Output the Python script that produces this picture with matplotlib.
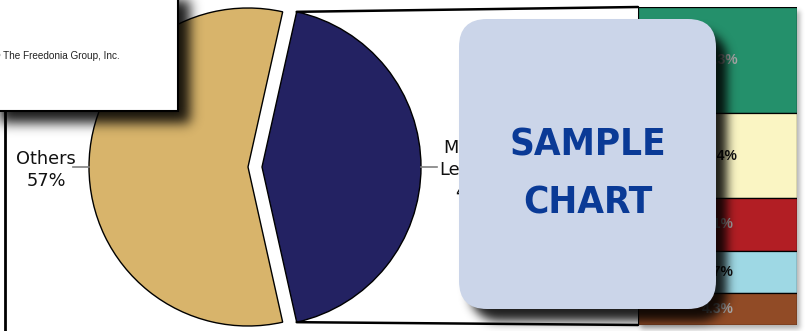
import numpy as np
import matplotlib
matplotlib.use('Agg')
import matplotlib.pyplot as plt
from matplotlib import font_manager as fm
from matplotlib.patches import Rectangle, FancyBboxPatch, ConnectionPatch

# pie: share of the market
pie_labels = ['Market\nLeaders', 'Others']
pie_values = [43, 57]
pie_colors = ['#232262', '#d8b46b']

# bar: how the leaders' 43% splits up (top to bottom)
bar_values = [14.3, 11.4, 7.1, 5.7, 4.3]
bar_colors = ['#24906b', '#faf5c3', '#b21e24', '#9ed8e4', '#914b26']
bar_text_colors = ['#a9a9a9', '#111111', '#a9a9a9', '#111111', '#a9a9a9']

W, H = 806, 331
fig = plt.figure(figsize=(W / 100, H / 100), dpi=100, facecolor='white')

yy, xx = np.mgrid[0:H, 0:W] + 0.5


def blur(m, sigma):
    rad = int(3 * sigma)
    k = np.exp(-0.5 * (np.arange(-rad, rad + 1) / sigma) ** 2)
    k /= k.sum()
    m = np.apply_along_axis(lambda row: np.convolve(row, k, mode='same'), 1, m)
    m = np.apply_along_axis(lambda col: np.convolve(col, k, mode='same'), 0, m)
    return m


def shadow(a_, x0, y0, x1, y1, dx, dy, sigma, strength, rr=0, z=1):
    hx, hy = (x1 - x0) / 2, (y1 - y0) / 2
    cx, cy = (x0 + x1) / 2 + dx, (y0 + y1) / 2 + dy
    qx = np.maximum(np.abs(xx - cx) - (hx - rr), 0)
    qy = np.maximum(np.abs(yy - cy) - (hy - rr), 0)
    mask = (qx ** 2 + qy ** 2 <= rr ** 2 + 1e-9) & (np.abs(xx - cx) <= hx) & (np.abs(yy - cy) <= hy)
    img = np.zeros((H, W, 4))
    img[..., 3] = blur(mask.astype(float), sigma) * strength
    a_.imshow(img, extent=(0, W, H, 0), zorder=z, interpolation='bilinear')


# main axes in pixel units (y goes down)
ax = fig.add_axes([0, 0, 1, 1])
ax.set_zorder(0)

# left frame line of the chart panel
ax.plot([5, 5], [-5, H + 5], color='black', lw=2, solid_capstyle='butt')

# faint shadow under the bar
shadow(ax, 638, 7, 797, 325, 3, 4, 2.5, 0.3, z=0.5)

# pie
r = 159
start = -pie_values[0] / sum(pie_values) * 360 / 2
wedges, _ = ax.pie(pie_values, colors=pie_colors, startangle=start,
                   center=(262, 167), radius=r, explode=[0, 14],
                   wedgeprops=dict(edgecolor='black', linewidth=1))

# leader lines + labels
pct = [f'{v}%' for v in pie_values]
for w, lab, p in zip(wedges, pie_labels, pct):
    mid = np.deg2rad((w.theta1 + w.theta2) / 2)
    cx, cy = w.center
    ex, ey = cx + w.r * np.cos(mid), cy + w.r * np.sin(mid)
    lx, ly = ex + 16 * np.cos(mid), ey + 16 * np.sin(mid)
    ax.plot([ex, lx], [ey, ly], color='#808080', lw=1.2)
    right = np.cos(mid) > 0
    ax.text(lx + 2 if right else lx + 3, ey + 3, lab + '\n' + p,
            ha='left' if right else 'right', va='center',
            multialignment='center', fontsize=12.8, family='DejaVu Sans',
            linespacing=1.3, color='#111111')

ax.set_xlim(0, W)
ax.set_ylim(H, 0)
ax.axis('off')

# bar of the breakdown
bax = fig.add_axes([638 / W, 1 - 325 / H, 159 / W, 318 / H])
bax.set_zorder(1)
bottoms = np.concatenate([[0], np.cumsum(bar_values)[:-1]])
bax.bar(0, bar_values, bottom=bottoms, width=1, color=bar_colors,
        edgecolor='black', linewidth=0.9)
for v, b, c in zip(bar_values, bottoms, bar_text_colors):
    bax.text(0, b + v / 2, f'{v:.1f}%', ha='center', va='center',
             fontsize=10, fontweight='bold', family='Liberation Sans', color=c)
bax.set_xlim(-0.5, 0.5)
bax.set_ylim(sum(bar_values), 0)
bax.axis('off')

# connector lines from the leaders wedge to the bar
w0 = wedges[0]
for ang, corner in [(w0.theta1, (0, 1)), (w0.theta2, (0, 0))]:
    a = np.deg2rad(ang)
    pt = (w0.center[0] + w0.r * np.cos(a), w0.center[1] + w0.r * np.sin(a))
    con = ConnectionPatch(xyA=pt, coordsA=ax.transData, xyB=corner,
                          coordsB=bax.transAxes, color='black', lw=1.8)
    ax.add_artist(con)

# overlay axes: watermark boxes with soft shadows
oax = fig.add_axes([0, 0, 1, 1])
oax.set_zorder(2)

# company box, top left
shadow(oax, -20, -20, 178, 111, 12, 12, 6, 0.9, z=1)
oax.add_patch(Rectangle((-20, -20), 198, 131, facecolor='white',
                        edgecolor='black', lw=1.5, zorder=2))
oax.text(-7, 56, '\u00a9 The Freedonia Group, Inc.', ha='left', va='center',
         fontsize=7.2, family='Liberation Sans', color='#222222', zorder=3)

# sample chart badge
shadow(oax, 459, 19, 716, 309, 11, 12, 5, 0.88, rr=28, z=4)
oax.add_patch(FancyBboxPatch((459, 19), 257, 290,
                             boxstyle='round,pad=0,rounding_size=28',
                             facecolor='#cbd5e9', edgecolor='none', zorder=5))


# pick a narrow bold sans if one is installed
def narrow_bold():
    best = None
    for f in fm.fontManager.ttflist:
        wt = f.weight if isinstance(f.weight, int) else fm.weight_dict.get(f.weight, 400)
        nm = f.name.lower()
        narrow = ('condensed' in str(f.stretch) or 'narrow' in nm
                  or 'condensed' in nm or 'narrow' in f.fname.lower()
                  or 'condensed' in f.fname.lower())
        if narrow and wt >= 600 and 'mono' not in nm and 'serif' not in nm.replace('sans', ''):
            score = 0 if 'semi' in f.fname.lower() or 'semi' in str(f.stretch) else 1
            if best is None or score > best[0]:
                best = (score, f.fname)
    if best:
        return fm.FontProperties(fname=best[1])
    return fm.FontProperties(family='Roboto', weight='bold')


fp = narrow_bold()
fig.canvas.draw()
rend = fig.canvas.get_renderer()
probe = oax.text(0, 0, 'SAMPLE', fontproperties=fp, fontsize=34)
size = 34 * 157 / probe.get_window_extent(rend).width
probe.remove()
for txt, base in [('SAMPLE', 156), ('CHART', 213)]:
    t = oax.text(588, base, txt, ha='center', va='baseline', fontproperties=fp,
                 color='#0a3a96', zorder=6)
    t.set_fontsize(size)

oax.set_xlim(0, W)
oax.set_ylim(H, 0)
oax.axis('off')

fig.savefig('out.png', dpi=100, facecolor='white')
